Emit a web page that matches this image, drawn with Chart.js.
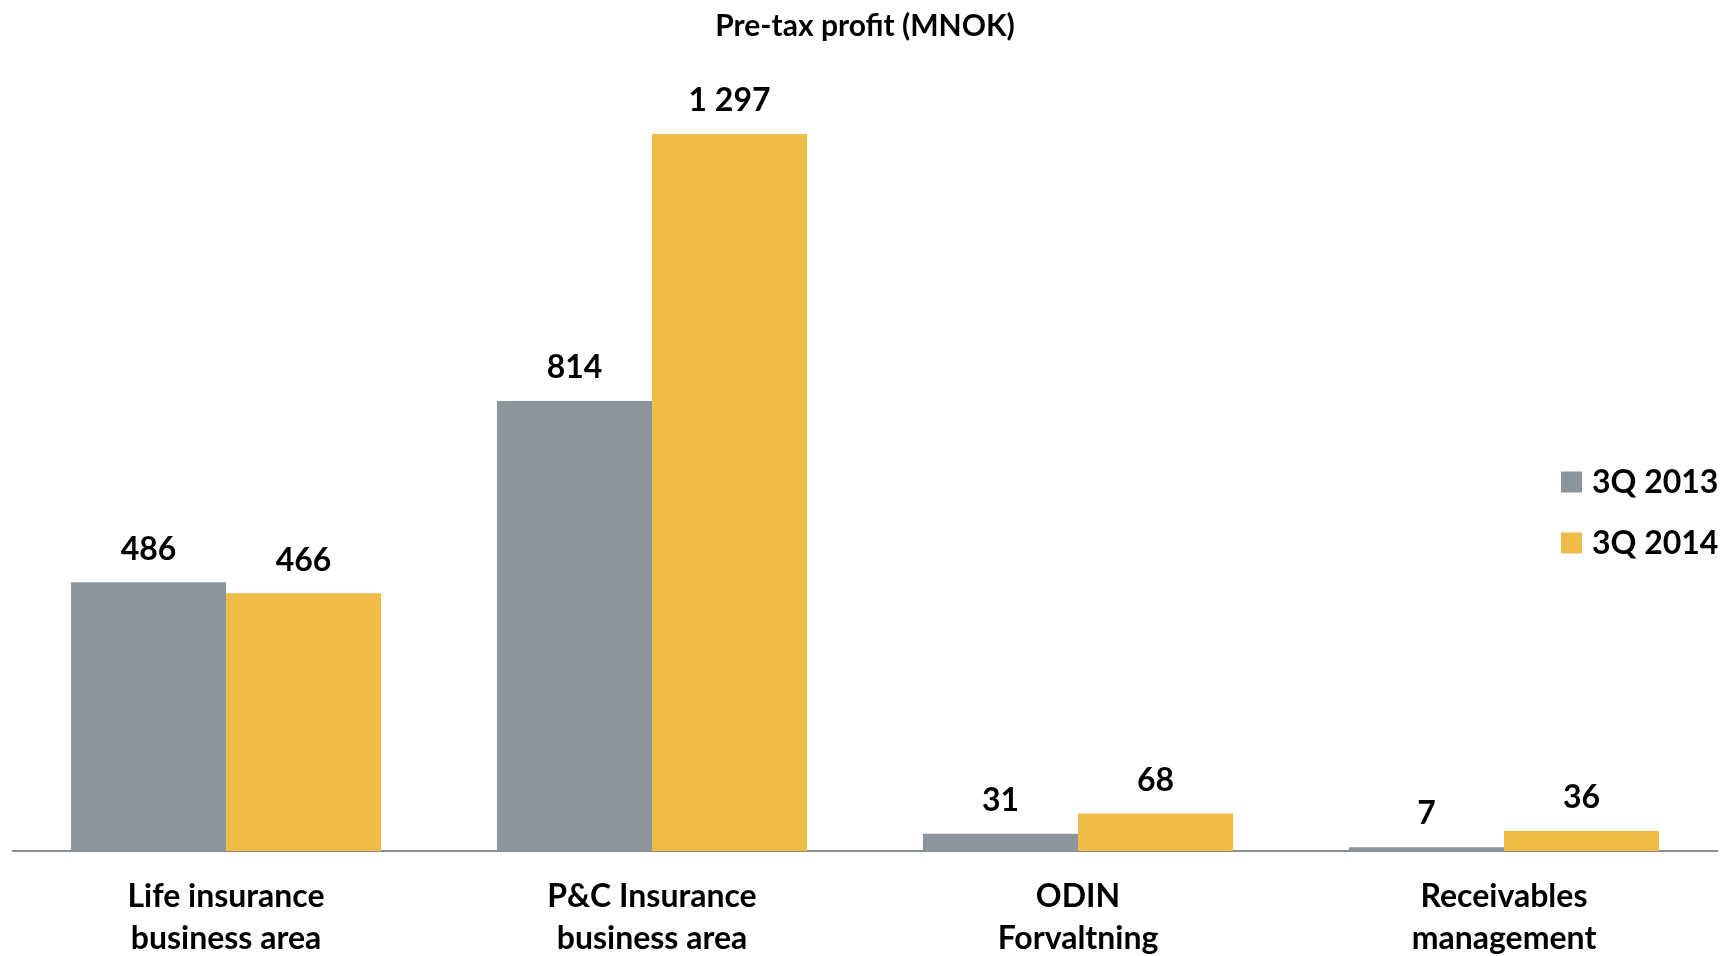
<!DOCTYPE html>
<html>
<head>
<meta charset="utf-8">
<style>
	html, body { margin: 0; padding: 0; background: #fff; }
	#profit { display: block; }
</style>
<script src="https://cdn.jsdelivr.net/npm/chart.js@4/dist/chart.umd.min.js"></script>
</head>
<body>
<canvas id="profit" width="1733" height="956"></canvas>
<script>
( function () {
	'use strict';

	var chartTitle = 'Pre-tax profit (MNOK)';
	var categories = [
		[ 'Life insurance', 'business area' ],
		[ 'P&C Insurance', 'business area' ],
		[ 'ODIN', 'Forvaltning' ],
		[ 'Receivables', 'management' ],
	];
	var seriesNames = [ '3Q 2013', '3Q 2014' ];
	var profit2013 = [ 486, 814, 31, 7 ];
	var profit2014 = [ 466, 1297, 68, 36 ];

	var GREY = '#8a959e';
	var GOLD = '#efbc48';
	var FONT = 'Lato, "Open Sans", sans-serif';

	function formatNumber( value ) {
		return String( value ).replace( /\B(?=(\d{3})+(?!\d))/g, ' ' );
	}

	// value labels above each bar
	var barValues = {
		id: 'barValues',
		afterDatasetsDraw: function ( chart ) {
			var ctx = chart.ctx;
			ctx.save();
			ctx.font = 'bold 32px ' + FONT;
			ctx.fillStyle = '#000';
			ctx.textAlign = 'center';
			ctx.textBaseline = 'middle';
			chart.data.datasets.forEach( function ( ds, i ) {
				chart.getDatasetMeta( i ).data.forEach( function ( bar, j ) {
					ctx.fillText( formatNumber( ds.data[ j ] ), bar.x, bar.y - 33 );
				} );
			} );
			ctx.restore();
		},
	};

	// heading and the series key on the right
	var decorations = {
		id: 'decorations',
		afterDraw: function ( chart ) {
			var ctx = chart.ctx;
			var area = chart.chartArea;
			ctx.save();
			ctx.fillStyle = '#000';
			ctx.textAlign = 'center';
			ctx.textBaseline = 'middle';
			ctx.font = 'bold 30px ' + FONT;
			ctx.fillText( chartTitle, ( area.left + area.right ) / 2, 26 );

			ctx.textAlign = 'left';
			ctx.font = 'bold 32px ' + FONT;
			chart.data.datasets.forEach( function ( ds, i ) {
				var cy = 482 + i * 61;
				ctx.fillStyle = ds.backgroundColor;
				ctx.fillRect( 1561, cy - 10.5, 21, 21 );
				ctx.fillStyle = '#000';
				ctx.fillText( ds.label, 1592, cy + 1 );
			} );
			ctx.restore();
		},
	};

	new Chart( document.getElementById( 'profit' ), {
		type: 'bar',
		data: {
			labels: categories,
			datasets: [
				{
					label: seriesNames[ 0 ],
					data: profit2013,
					backgroundColor: GREY,
					categoryPercentage: 0.728,
					barPercentage: 1,
				},
				{
					label: seriesNames[ 1 ],
					data: profit2014,
					backgroundColor: GOLD,
					categoryPercentage: 0.728,
					barPercentage: 1,
				},
			],
		},
		options: {
			responsive: false,
			animation: false,
			layout: {
				padding: { top: 77, left: 13, right: 16, bottom: 0 },
			},
			plugins: {
				legend: { display: false },
				title: { display: false },
				tooltip: { enabled: false },
			},
			scales: {
				x: {
					grid: { display: false },
					border: { display: true, color: '#8c8c8c', width: 2 },
					ticks: {
						color: '#000',
						font: { family: FONT, size: 32, weight: 'bold', lineHeight: 1.31 },
						padding: 17,
						maxRotation: 0,
						autoSkip: false,
					},
					afterFit: function ( scale ) {
						scale.height = 105;
					},
				},
				y: {
					display: false,
					min: 0,
					max: 1400,
				},
			},
		},
		plugins: [ barValues, decorations ],
	} );
} )();
</script>
</body>
</html>
